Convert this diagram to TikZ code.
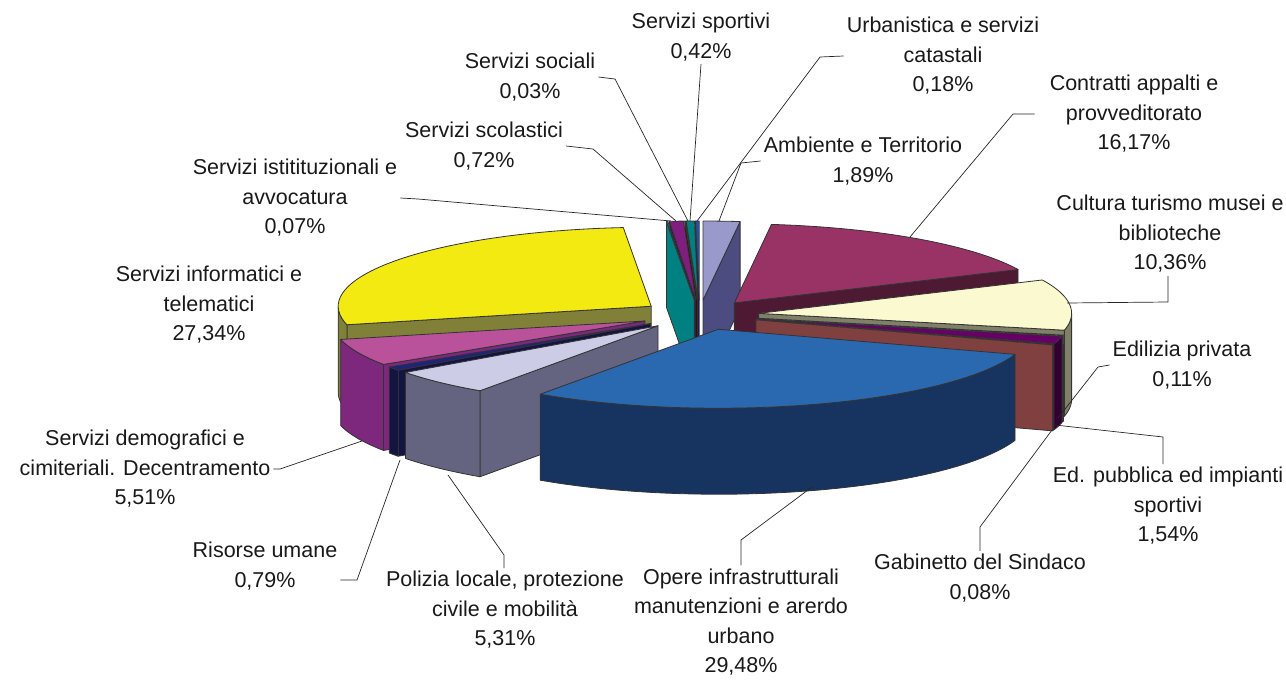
\documentclass[tikz,border=0pt]{standalone}
\usepackage{fontspec}
\setmainfont{Liberation Sans}
\usetikzlibrary{calc}

\definecolor{ambtop}{RGB}{153,153,204}
\definecolor{ambside}{RGB}{76,76,128}
\definecolor{contop}{RGB}{153,51,102}
\definecolor{conside}{RGB}{77,25,51}
\definecolor{cultop}{RGB}{250,249,208}
\definecolor{culside}{RGB}{128,128,104}
\definecolor{ediltop}{RGB}{204,255,255}
\definecolor{edilside}{RGB}{102,128,128}
\definecolor{edptop}{RGB}{102,0,102}
\definecolor{edpside}{RGB}{51,0,51}
\definecolor{gabtop}{RGB}{255,128,128}
\definecolor{gabside}{RGB}{128,64,64}
\definecolor{opetop}{RGB}{42,104,176}
\definecolor{opeside}{RGB}{23,51,96}
\definecolor{poltop}{RGB}{204,204,230}
\definecolor{polside}{RGB}{100,100,128}
\definecolor{ristop}{RGB}{30,36,120}
\definecolor{risside}{RGB}{20,20,64}
\definecolor{demtop}{RGB}{185,82,155}
\definecolor{demside}{RGB}{125,40,125}
\definecolor{inftop}{RGB}{242,234,16}
\definecolor{infside}{RGB}{128,128,56}
\definecolor{isttop}{RGB}{0,230,230}
\definecolor{istside}{RGB}{0,128,128}
\definecolor{scotop}{RGB}{128,30,128}
\definecolor{scoside}{RGB}{64,0,64}
\definecolor{soctop}{RGB}{128,0,0}
\definecolor{socside}{RGB}{64,0,0}
\definecolor{spotop}{RGB}{0,128,128}
\definecolor{sposide}{RGB}{0,64,64}
\definecolor{urbtop}{RGB}{40,80,170}
\definecolor{urbside}{RGB}{0,0,128}

% pie: centre, radii, explosion, thickness (pixels)
\newcommand{\pcx}{699.5}
\newcommand{\pcy}{315}
\newcommand{\pra}{313}
\newcommand{\prb}{79}
\newcommand{\pex}{0.19}
\newcommand{\pht}{86}

\newcommand{\pieslice}[4]{%
  \pgfmathsetmacro{\slmid}{(#1+#2)/2}%
  \pgfmathsetmacro{\sldx}{\pex*\pra*sin(\slmid)}%
  \pgfmathsetmacro{\sldy}{-\pex*\prb*cos(\slmid)}%
  \pgfmathtruncatemacro{\slstart}{sin(#1)<-0.001 ? 1 : 0}%
  \pgfmathtruncatemacro{\slend}{sin(#2)>0.001 ? 1 : 0}%
  \pgfmathsetmacro{\sla}{max(#1,90)}%
  \pgfmathsetmacro{\slb}{min(#2,270)}%
  \pgfmathtruncatemacro{\slside}{\sla<\slb ? 1 : 0}%
  \begin{scope}[shift={(\sldx,\sldy)}]
    \ifnum\slstart=1
      \filldraw[pieline, fill=#4] (\pcx,\pcy) -- ({\pcx+\pra*sin(#1)},{\pcy-\prb*cos(#1)}) -- ++(0,\pht) -- (\pcx,{\pcy+\pht}) -- cycle;
    \fi
    \ifnum\slend=1
      \filldraw[pieline, fill=#4] (\pcx,\pcy) -- ({\pcx+\pra*sin(#2)},{\pcy-\prb*cos(#2)}) -- ++(0,\pht) -- (\pcx,{\pcy+\pht}) -- cycle;
    \fi
    \ifnum\slside=1
      \filldraw[pieline, fill=#4] plot[domain=\sla:\slb, samples=40, variable=\x] ({\pcx+\pra*sin(\x)},{\pcy-\prb*cos(\x)})
        -- plot[domain=\slb:\sla, samples=40, variable=\x] ({\pcx+\pra*sin(\x)},{\pcy+\pht-\prb*cos(\x)}) -- cycle;
    \fi
    \filldraw[pieline, fill=#3] (\pcx,\pcy) -- plot[domain=#1:#2, samples=40, variable=\x] ({\pcx+\pra*sin(\x)},{\pcy-\prb*cos(\x)}) -- cycle;
  \end{scope}}

\tikzset{
  pieline/.style={draw=black!80, line width=0.8pt, line join=round},
  leader/.style={draw=black!85, line width=0.7pt},
  lbl/.style={align=center, inner sep=3pt, text=black!90, font=\fontsize{21.5}{29.5}\selectfont}
}

\begin{document}
\begin{tikzpicture}[x=1pt,y=-1pt]
  \useasboundingbox (0,0) rectangle (1286,680);

  % slices, back to front
  \pieslice{359.352}{360}{urbtop}{urbside}
  \pieslice{357.84}{359.352}{spotop}{sposide}
  \pieslice{357.732}{357.84}{soctop}{socside}
  \pieslice{355.14}{357.732}{scotop}{scoside}
  \pieslice{0}{6.804}{ambtop}{ambside}
  \pieslice{354.888}{355.14}{isttop}{istside}
  \pieslice{6.804}{65.016}{contop}{conside}
  \pieslice{256.464}{354.888}{inftop}{infside}
  \pieslice{65.016}{102.312}{cultop}{culside}
  \pieslice{102.312}{102.708}{ediltop}{edilside}
  \pieslice{102.708}{108.252}{edptop}{edpside}
  \pieslice{108.252}{108.54}{gabtop}{gabside}
  \pieslice{236.628}{256.464}{demtop}{demside}
  \pieslice{233.784}{236.628}{ristop}{risside}
  \pieslice{214.668}{233.784}{poltop}{polside}
  \pieslice{108.54}{214.668}{opetop}{opeside}

  % labels
  \node[lbl] (sportivi) at (701,37) {Servizi sportivi\\0,42\%};
  \node[lbl] (urbanistica) at (943,56) {Urbanistica e servizi\\catastali\\0,18\%};
  \node[lbl] (sociali) at (530,77) {Servizi sociali\\0,03\%};
  \node[lbl] (contratti) at (1134,114) {Contratti appalti e\\provveditorato\\16,17\%};
  \node[lbl] (scolastici) at (484,146) {Servizi scolastici\\0,72\%};
  \node[lbl] (ambiente) at (863,161) {Ambiente e Territorio\\1,89\%};
  \node[lbl] (istituzionali) at (295,198) {Servizi istitituzionali e\\avvocatura\\0,07\%};
  \node[lbl] (cultura) at (1170,234) {Cultura turismo musei e\\biblioteche\\10,36\%};
  \node[lbl] (informatici) at (209,305) {Servizi informatici e\\telematici\\27,34\%};
  \node[lbl] (edilizia) at (1182,365) {Edilizia privata\\0,11\%};
  \node[lbl] (demografici) at (145,469) {Servizi demografici e\\cimiteriali. Decentramento\\5,51\%};
  \node[lbl] (edpubblica) at (1168,506) {Ed. pubblica ed impianti\\sportivi\\1,54\%};
  \node[lbl] (risorse) at (265,566) {Risorse umane\\0,79\%};
  \node[lbl] (gabinetto) at (980,578) {Gabinetto del Sindaco\\0,08\%};
  \node[lbl] (polizia) at (505,610) {Polizia locale, protezione\\civile e mobilità\\5,31\%};
  \node[lbl] (opere) at (741,622) {Opere infrastrutturali\\manutenzioni e arerdo\\urbano\\29,48\%};

  % leader bends and ends
  \coordinate (spo-pie) at (690,221);
  \coordinate (soc-bend) at (615,79);   \coordinate (soc-pie) at (688,221);
  \coordinate (sco-bend) at (593,149);  \coordinate (sco-pie) at (676,221);
  \coordinate (ist-bend) at (418,199);  \coordinate (ist-pie) at (671,221);
  \coordinate (urb-bend) at (820,57);   \coordinate (urb-pie) at (697,221);
  \coordinate (amb-bend) at (741,163);  \coordinate (amb-pie) at (719,221);
  \coordinate (con-bend) at (1013,114); \coordinate (con-pie) at (910,237);
  \coordinate (cul-bend) at (1168,302); \coordinate (cul-pie) at (1067,303);
  \coordinate (edi-bend) at (1098,367); \coordinate (edi-pie) at (1058,418);
  \coordinate (edp-bend) at (1163,437); \coordinate (edp-pie) at (1055,425);
  \coordinate (gab-bend) at (980,527);  \coordinate (gab-pie) at (1052,430);
  \coordinate (ope-bend) at (741,540);  \coordinate (ope-pie) at (812,487);
  \coordinate (pol-bend) at (504,555);  \coordinate (pol-pie) at (448,475);
  \coordinate (ris-bend) at (357,580);  \coordinate (ris-pie) at (400,460);
  \coordinate (dem-bend) at (280,469);  \coordinate (dem-pie) at (362,441);

  \draw[leader] (sportivi.south) -- (spo-pie);
  \draw[leader] (sociali.east) -- (soc-bend) -- (soc-pie);
  \draw[leader] (scolastici.east) -- (sco-bend) -- (sco-pie);
  \draw[leader] (istituzionali.east) -- (ist-bend) -- (ist-pie);
  \draw[leader] (urbanistica.west) -- (urb-bend) -- (urb-pie);
  \draw[leader] (ambiente.west) -- (amb-bend) -- (amb-pie);
  \draw[leader, shorten <=12pt] (contratti.west) -- (con-bend) -- (con-pie);
  \draw[leader] (cultura.south -| cul-bend) -- (cul-bend) -- (cul-pie);
  \draw[leader] (edilizia.west) -- (edi-bend) -- (edi-pie);
  \draw[leader] (edpubblica.north -| edp-bend) -- (edp-bend) -- (edp-pie);
  \draw[leader] (gabinetto.north -| gab-bend) -- (gab-bend) -- (gab-pie);
  \draw[leader] (opere.north -| ope-bend) -- (ope-bend) -- (ope-pie);
  \draw[leader] (polizia.north -| pol-bend) -- (pol-bend) -- (pol-pie);
  \draw[leader] (risorse.east |- ris-bend) -- (ris-bend) -- (ris-pie);
  \draw[leader] (demografici.east) -- (dem-bend) -- (dem-pie);
\end{tikzpicture}
\end{document}
